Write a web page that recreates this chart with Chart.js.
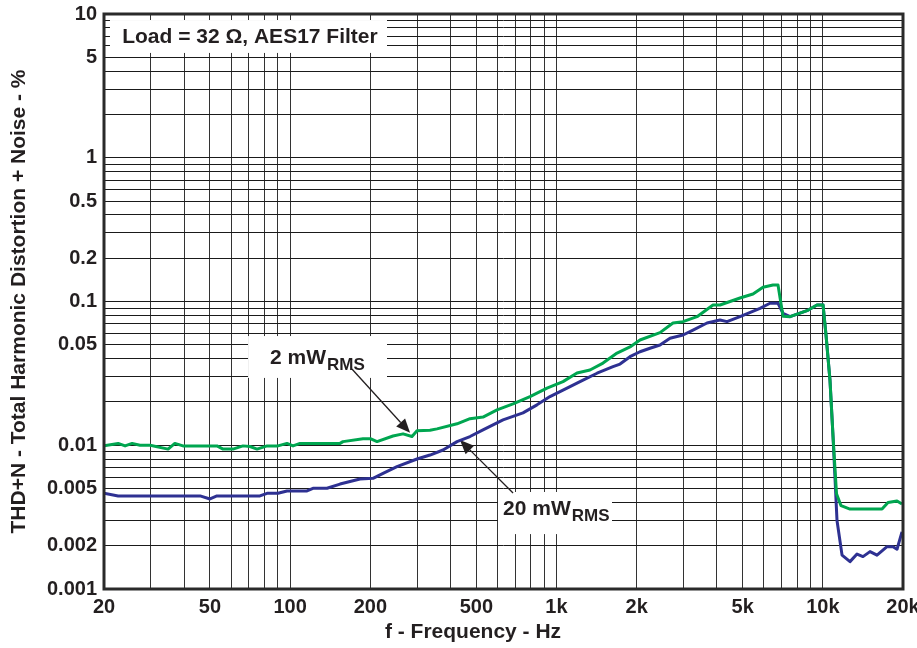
<!DOCTYPE html>
<html><head><meta charset="utf-8">
<script src="https://cdn.jsdelivr.net/npm/chart.js@4.4.0/dist/chart.umd.min.js"></script>
<style>html,body{margin:0;padding:0;background:#fff}#wrap{width:917px;height:648px;position:relative}</style>
</head><body><div id="wrap"><canvas id="c" width="917" height="648"></canvas></div>
<script>
// ---- data ----
const freq2mW = [20, 22.6, 24, 25.5, 27.3, 29.8, 34.8, 36.9, 39.6, 45.9, 53.1, 56, 61, 66.5, 70.7, 75.1, 81.9, 90, 97.3, 102.5, 108.9, 137.5, 153.9, 157.9, 187.7, 200, 211.9, 243.3, 265.3, 286.7, 299.4, 335, 355.9, 423.2, 473.5, 529.7, 598, 686.8, 795.3, 921.4, 1058, 1194, 1336, 1495, 1688, 1888, 2058, 2447, 2738, 2986, 3370, 3869, 4111, 4887, 5468, 5962, 6500, 6788, 7088, 7532, 8722, 9508, 10018, 10278, 10638, 10922, 11256, 11704, 12648, 16682, 17572, 18993, 19830];
const thd2mW = [0.0099, 0.0103, 0.0099, 0.0103, 0.0100, 0.0100, 0.0094, 0.0103, 0.0099, 0.0099, 0.0099, 0.0094, 0.0094, 0.0099, 0.0098, 0.0094, 0.0099, 0.0099, 0.0103, 0.0099, 0.0103, 0.0103, 0.0103, 0.0106, 0.0111, 0.0111, 0.0106, 0.0116, 0.0120, 0.0115, 0.0126, 0.0127, 0.0130, 0.0141, 0.0153, 0.0157, 0.0176, 0.0194, 0.0218, 0.0250, 0.0277, 0.0318, 0.0334, 0.0373, 0.0438, 0.0483, 0.0540, 0.0607, 0.0709, 0.0724, 0.0784, 0.0946, 0.0946, 0.1057, 0.1128, 0.1256, 0.1302, 0.1302, 0.0790, 0.0784, 0.0863, 0.0946, 0.0946, 0.0585, 0.0284, 0.0115, 0.0046, 0.0038, 0.0036, 0.0036, 0.0040, 0.0041, 0.0039];

const freq20mW = [20, 22.6, 45.9, 50, 53.1, 77, 81.9, 90, 97.3, 115.7, 121.8, 137.5, 153.9, 182.9, 204.7, 223.2, 251.8, 299.4, 335, 374.9, 423.2, 473.5, 529.7, 629.8, 748.6, 844.9, 945.3, 1058, 1258, 1420, 1630, 1732, 1888, 2058, 2244, 2447, 2668, 2986, 3255, 3674, 4111, 4367, 4887, 5809, 6333, 6788, 7088, 7532, 8722, 9508, 10018, 10278, 10638, 10922, 11304, 11807, 12648, 13438, 14152, 15036, 15975, 17420, 18348, 18993, 19830];
const thd20mW = [0.00463, 0.00444, 0.00444, 0.00423, 0.00444, 0.00444, 0.00463, 0.00463, 0.00481, 0.00481, 0.00502, 0.00502, 0.00537, 0.00582, 0.00589, 0.00638, 0.00709, 0.00802, 0.00855, 0.00927, 0.0106, 0.0115, 0.0128, 0.0150, 0.0168, 0.0191, 0.0218, 0.0242, 0.0284, 0.0317, 0.0352, 0.0367, 0.0413, 0.0447, 0.0473, 0.0498, 0.0555, 0.0585, 0.0633, 0.0709, 0.0743, 0.0724, 0.0784, 0.0897, 0.0972, 0.0972, 0.0828, 0.0784, 0.0863, 0.0946, 0.0946, 0.0585, 0.0284, 0.0115, 0.0030, 0.00172, 0.00155, 0.00175, 0.00168, 0.00182, 0.00172, 0.00197, 0.00197, 0.00189, 0.0025];

const xGridValues = [20, 30, 40, 50, 60, 70, 80, 90, 100, 200, 300, 400, 500, 600, 700, 800, 900, 1000, 2000, 3000, 4000, 5000, 6000, 7000, 8000, 9000, 10000, 20000];
const xTickValues = [20, 50, 100, 200, 500, 1000, 2000, 5000, 10000, 20000];
const xTickLabels = ['20', '50', '100', '200', '500', '1k', '2k', '5k', '10k', '20k'];

const yGridValues = [0.001, 0.002, 0.003, 0.004, 0.005, 0.006, 0.007, 0.008, 0.009,
  0.01, 0.02, 0.03, 0.04, 0.05, 0.06, 0.07, 0.08, 0.09,
  0.1, 0.2, 0.3, 0.4, 0.5, 0.6, 0.7, 0.8, 0.9,
  1, 2, 3, 4, 5, 6, 7, 8, 9, 10];
const yTickValues = [0.001, 0.002, 0.005, 0.01, 0.05, 0.1, 0.2, 0.5, 1, 5, 10];
const yTickLabels = ['0.001', '0.002', '0.005', '0.01', '0.05', '0.1', '0.2', '0.5', '1', '5', '10'];

const seriesNames = ['2 mW', '20 mW'];
const xTitle = 'f - Frequency - Hz';
const yTitle = 'THD+N - Total Harmonic Distortion + Noise - %';
const noteText = 'Load = 32 \u03A9, AES17 Filter';

// ---- styling ----
const FONT = '"Liberation Sans", Arial, Helvetica, sans-serif';
const INK = '#231f20';

function lookupLabel(values, labels, v) {
  for (let i = 0; i < values.length; i++) {
    if (Math.abs(values[i] - v) <= Math.abs(v) * 1e-6) return labels[i];
  }
  return '';
}

// annotations in data coordinates
const annotations = {
  note: { box: [21.06, 9.08, 231, 5.36], text: [23.4, 6.3] },
  low: { box: [69.5, 0.0575, 231, 0.0294], text: [84, 0.0370], from: [170.6, 0.0339], to: [282, 0.0122] },
  high: { box: [603, 0.00473, 1616, 0.00241], text: [630, 0.00327], from: [686.8, 0.00465], to: [434, 0.01088] }
};

function drawArrow(ctx, x1, y1, x2, y2) {
  ctx.save();
  ctx.strokeStyle = INK; ctx.fillStyle = INK; ctx.lineWidth = 1.3;
  const ang = Math.atan2(y2 - y1, x2 - x1);
  const L = 14, W = 6;
  const bx = x2 - L * Math.cos(ang), by = y2 - L * Math.sin(ang);
  ctx.beginPath(); ctx.moveTo(x1, y1); ctx.lineTo(bx, by); ctx.stroke();
  ctx.beginPath();
  ctx.moveTo(x2, y2);
  ctx.lineTo(bx + W * Math.sin(ang), by - W * Math.cos(ang));
  ctx.lineTo(bx - W * Math.sin(ang), by + W * Math.cos(ang));
  ctx.closePath(); ctx.fill();
  ctx.restore();
}

function drawSubLabel(ctx, x, y, main, sub) {
  ctx.save();
  ctx.fillStyle = INK; ctx.textBaseline = 'alphabetic'; ctx.textAlign = 'left';
  ctx.font = 'bold 21px ' + FONT;
  ctx.fillText(main, x, y);
  const w = ctx.measureText(main).width;
  ctx.font = 'bold 17px ' + FONT;
  ctx.fillText('RMS', x + w + 1, y + 6);
  ctx.restore();
}

const annotationPlugin = {
  id: 'annot',
  beforeDatasetsDraw(chart) {
    const ctx = chart.ctx, xs = chart.scales.x, ys = chart.scales.y;
    const px = v => xs.getPixelForValue(v), py = v => ys.getPixelForValue(v);
    ctx.save();
    ctx.fillStyle = '#ffffff';
    for (const k of ['note', 'low', 'high']) {
      const b = annotations[k].box;
      ctx.fillRect(px(b[0]), py(b[1]), px(b[2]) - px(b[0]), py(b[3]) - py(b[1]));
    }
    ctx.restore();
    // note text
    ctx.save();
    ctx.fillStyle = INK; ctx.font = 'bold 21px ' + FONT; ctx.textBaseline = 'alphabetic';
    ctx.fillText(noteText, px(annotations.note.text[0]), py(annotations.note.text[1]));
    ctx.restore();
    const lo = annotations.low, hi = annotations.high;
    drawSubLabel(ctx, px(lo.text[0]), py(lo.text[1]), seriesNames[0], 'RMS');
    drawSubLabel(ctx, px(hi.text[0]), py(hi.text[1]), seriesNames[1], 'RMS');
    drawArrow(ctx, px(lo.from[0]), py(lo.from[1]), px(lo.to[0]), py(lo.to[1]));
    drawArrow(ctx, px(hi.from[0]), py(hi.from[1]), px(hi.to[0]), py(hi.to[1]));
  },
  afterDatasetsDraw(chart) {
    const ctx = chart.ctx, a = chart.chartArea;
    ctx.save();
    ctx.strokeStyle = '#2a2a2a'; ctx.lineWidth = 3;
    ctx.strokeRect(a.left, a.top, a.right - a.left, a.bottom - a.top);
    ctx.restore();
  },
  afterDraw(chart) {
    const ctx = chart.ctx, a = chart.chartArea;
    ctx.save();
    ctx.fillStyle = INK; ctx.font = 'bold 21px ' + FONT;
    ctx.textAlign = 'center'; ctx.textBaseline = 'middle';
    ctx.fillText(xTitle, a.left + 369, 632);
    ctx.restore();
  }
};

new Chart(document.getElementById('c'), {
  type: 'line',
  data: {
    datasets: [
      { label: seriesNames[0], data: freq2mW.map((f, i) => ({ x: f, y: thd2mW[i] })),
        borderColor: '#00a650', borderWidth: 3, pointRadius: 0, tension: 0, fill: false, borderJoinStyle: 'round' },
      { label: seriesNames[1], data: freq20mW.map((f, i) => ({ x: f, y: thd20mW[i] })),
        borderColor: '#2e3192', borderWidth: 3, pointRadius: 0, tension: 0, fill: false, borderJoinStyle: 'round' }
    ]
  },
  options: {
    responsive: false, animation: false, devicePixelRatio: 1,
    layout: { padding: { top: 14, right: 14, left: 0, bottom: 0 } },
    plugins: { legend: { display: false }, tooltip: { enabled: false } },
    scales: {
      x: {
        type: 'logarithmic', min: 20, max: 20000,
        afterBuildTicks: s => { s.ticks = xGridValues.map(v => ({ value: v })); },
        afterFit: s => { s.height = 59; s.paddingLeft = 0; s.paddingRight = 0; },
        grid: { color: '#333333', lineWidth: 1, drawTicks: false },
        border: { display: false },
        ticks: { autoSkip: false, maxRotation: 0, minRotation: 0, padding: 6, color: INK,
          font: { family: FONT, size: 20, weight: 'bold' },
          callback: v => lookupLabel(xTickValues, xTickLabels, v) }
      },
      y: {
        type: 'logarithmic', min: 0.001, max: 10,
        afterBuildTicks: s => { s.ticks = yGridValues.map(v => ({ value: v })); },
        afterFit: s => { s.width = 104; s.paddingTop = 0; s.paddingBottom = 0; },
        grid: { color: '#1a1a1a', lineWidth: 1, drawTicks: false },
        border: { display: false },
        title: { display: true, text: yTitle, color: INK, padding: { top: 7, bottom: 0 },
          font: { family: FONT, size: 21, weight: 'bold' } },
        ticks: { autoSkip: false, padding: 7, color: INK,
          font: { family: FONT, size: 20, weight: 'bold' },
          callback: v => lookupLabel(yTickValues, yTickLabels, v) }
      }
    }
  },
  plugins: [annotationPlugin]
});
</script></body></html>
